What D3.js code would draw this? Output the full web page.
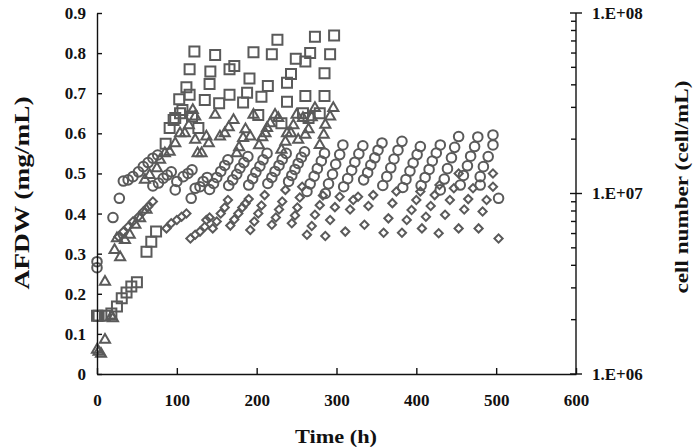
<!DOCTYPE html>
<html>
<head>
<meta charset="utf-8">
<script src="https://cdn.jsdelivr.net/npm/d3@7/dist/d3.min.js"></script>
<style>
  body { margin: 0; background: #fff; }
  text { font-family: "Liberation Serif", "Times New Roman", serif; font-weight: bold; fill: #111; }
</style>
</head>
<body>
<div id="chart"></div>
<script>
// squares
const sqT = [0, 2, 10, 18, 25, 31, 37, 43, 50, 62, 68, 74,
  86, 91, 96, 98, 103, 104, 107, 112, 116, 116, 119, 122, 127, 135, 141, 142, 148, 153,
  166, 166, 172, 183, 188, 191, 196, 202, 206, 214, 219, 226, 231, 238, 238, 243, 249,
  258, 261, 261, 265, 267, 273, 279, 285, 285, 292, 297];
const sqV = [0.145, 0.145, 0.145, 0.151, 0.168, 0.189, 0.203, 0.218, 0.229, 0.305, 0.33, 0.355,
  0.574, 0.613, 0.633, 0.638, 0.685, 0.65, 0.658, 0.715, 0.76, 0.696, 0.642, 0.804, 0.613, 0.683, 0.723, 0.754, 0.795, 0.675,
  0.76, 0.696, 0.768, 0.677, 0.701, 0.737, 0.802, 0.646, 0.691, 0.718, 0.797, 0.833, 0.625, 0.679, 0.726, 0.748, 0.786,
  0.65, 0.693, 0.779, 0.638, 0.8, 0.841, 0.65, 0.693, 0.75, 0.797, 0.844];

// triangles
const triT = [0, 2, 5, 10, 10, 18, 20,
  22, 25, 29, 35, 41, 48, 54, 62,
  60, 66, 75, 79, 85, 91, 98, 104, 110, 115, 120, 123, 123, 126, 131, 137, 140, 148, 154,
  160, 165, 171, 175, 178, 183, 186, 192, 196, 203, 207, 211, 213, 217, 223, 227, 231, 236,
  238, 243, 246, 250, 252, 258, 261, 265, 269, 273, 279, 284, 286, 292, 296];
const triV = [0.06, 0.055, 0.05, 0.085, 0.23, 0.143, 0.139,
  0.309, 0.338, 0.291, 0.334, 0.347, 0.372, 0.388, 0.409,
  0.484, 0.496, 0.513, 0.534, 0.55, 0.554, 0.575, 0.6, 0.6, 0.62, 0.658, 0.642, 0.584, 0.55, 0.55, 0.592, 0.575, 0.646, 0.592,
  0.6, 0.615, 0.633, 0.55, 0.565, 0.588, 0.61, 0.592, 0.646, 0.57, 0.59, 0.6, 0.613, 0.625, 0.646, 0.638, 0.559, 0.579,
  0.6, 0.6, 0.62, 0.646, 0.584, 0.638, 0.596, 0.61, 0.64, 0.663, 0.571, 0.596, 0.621, 0.642, 0.663];

// circles
const cirT = [0, 0, 20, 28, 33, 39, 45, 52, 58, 64, 70, 76,
  70, 77, 83, 88, 93, 98, 100, 108, 114, 119, 118, 123, 129, 133, 138,
  141, 146, 150, 155, 160, 164,
  165, 170, 175, 179, 184, 189,
  190, 195, 199, 204, 208, 213,
  214, 219, 223, 228, 232, 237,
  240, 244, 248, 252, 256, 260,
  263, 267, 272, 276, 281, 285,
  286, 290, 295, 299, 304, 308,
  309, 314, 319, 323, 328, 333,
  334, 339, 343, 348, 352, 357,
  358, 363, 368, 372, 377, 382,
  383, 387, 392, 396, 401, 405,
  406, 411, 416, 420, 425, 430,
  430, 435, 439, 444, 448, 453,
  455, 459, 464, 468, 473, 477,
  480, 480, 484, 490, 496, 496,
  503];
const cirV = [0.28, 0.265, 0.39, 0.438, 0.481, 0.484, 0.492, 0.504, 0.517, 0.527, 0.538, 0.546,
  0.469, 0.476, 0.488, 0.496, 0.504, 0.459, 0.48, 0.492, 0.5, 0.509, 0.438, 0.463, 0.467, 0.48, 0.49,
  0.46, 0.475, 0.49, 0.505, 0.52, 0.534,
  0.47, 0.484, 0.498, 0.513, 0.527, 0.542,
  0.471, 0.487, 0.503, 0.518, 0.534, 0.55,
  0.475, 0.49, 0.505, 0.52, 0.535, 0.55,
  0.48, 0.495, 0.51, 0.525, 0.54, 0.554,
  0.455, 0.474, 0.493, 0.512, 0.531, 0.55,
  0.45, 0.474, 0.498, 0.523, 0.547, 0.571,
  0.467, 0.487, 0.508, 0.528, 0.549, 0.569,
  0.484, 0.502, 0.521, 0.539, 0.558, 0.576,
  0.47, 0.492, 0.514, 0.536, 0.558, 0.58,
  0.465, 0.485, 0.506, 0.526, 0.547, 0.567,
  0.47, 0.49, 0.51, 0.531, 0.551, 0.571,
  0.459, 0.486, 0.512, 0.539, 0.565, 0.592,
  0.471, 0.495, 0.519, 0.543, 0.567, 0.591,
  0.471, 0.492, 0.517, 0.542, 0.571, 0.596,
  0.438];

// diamonds
const diaT = [27, 33, 39, 45, 52, 58, 64, 70,
  87, 93, 100, 106, 112,
  117, 123, 129, 135, 137, 141,
  145, 150, 155, 160, 164,
  167, 172, 177, 182, 186, 190,
  192, 197, 202, 206, 210,
  219, 224, 228, 232, 236,
  244, 248, 251, 254, 257,
  263, 269, 273, 279, 283,
  286, 292, 298, 304,
  311, 317, 321, 327,
  335, 340, 346,
  359, 365, 370, 375,
  382, 388, 394, 400, 405,
  407, 412, 418, 423, 429,
  428, 436, 442, 447, 453,
  453, 460, 465, 471,
  478, 483, 488, 496, 496,
  503];
const diaV = [0.342, 0.355, 0.367, 0.38, 0.392, 0.405, 0.417, 0.43,
  0.363, 0.376, 0.384, 0.392, 0.4,
  0.338, 0.347, 0.355, 0.367, 0.384, 0.39,
  0.363, 0.38, 0.4, 0.415, 0.434,
  0.37, 0.385, 0.4, 0.415, 0.425, 0.436,
  0.359, 0.38, 0.4, 0.42, 0.446,
  0.372, 0.39, 0.41, 0.43, 0.459,
  0.376, 0.395, 0.415, 0.44, 0.467,
  0.347, 0.369, 0.397, 0.421, 0.445,
  0.344, 0.384, 0.416, 0.442,
  0.355, 0.41, 0.434, 0.442,
  0.372, 0.419, 0.446,
  0.352, 0.388, 0.426, 0.455,
  0.352, 0.384, 0.409, 0.434, 0.455,
  0.363, 0.392, 0.419, 0.446, 0.471,
  0.351, 0.397, 0.434, 0.463, 0.5,
  0.363, 0.41, 0.436, 0.463,
  0.363, 0.405, 0.434, 0.467, 0.5,
  0.338];

const xTicks = [0, 100, 200, 300, 400, 500, 600];
const yTicks = [0, 0.1, 0.2, 0.3, 0.4, 0.5, 0.6, 0.7, 0.8, 0.9];
const rightTicks = [1e6, 1e7, 1e8];
const rightLabels = ["1.E+06", "1.E+07", "1.E+08"];

const svg = d3.select("#chart").append("svg")
    .attr("width", 695)
    .attr("height", 448);

const x = d3.scaleLinear().domain([0, 600]).range([97, 576]);
const y = d3.scaleLinear().domain([0, 0.9]).range([374, 13]);
const yR = d3.scaleLog().domain([1e6, 1e8]).range([374, 13]);

// markers
const markColor = "#5a5a5a";
function drawSeries(ts, vs, sym, size, rot) {
    const pts = ts.map((t, i) => ({ t: t, v: vs[i] }));
    svg.append("g").selectAll("path")
        .data(pts)
        .enter()
        .append("path")
        .attr("d", d3.symbol().type(sym).size(size))
        .attr("transform", d => `translate(${x(d.t)},${y(d.v)}) rotate(${rot})`)
        .attr("fill", "none")
        .attr("stroke", markColor)
        .attr("stroke-width", 2);
}
drawSeries(sqT, sqV, d3.symbolSquare, 100, 0);
drawSeries(triT, triV, d3.symbolTriangle, 44, 0);
drawSeries(cirT, cirV, d3.symbolCircle, 72, 0);
drawSeries(diaT, diaV, d3.symbolSquare, 34, 45);

// axes
const gx = svg.append("g")
    .attr("transform", "translate(0,374)")
    .call(d3.axisBottom(x).tickValues(xTicks).tickSize(-6).tickSizeOuter(0).tickPadding(20));
const gy = svg.append("g")
    .attr("transform", "translate(97,0)")
    .call(d3.axisLeft(y).tickValues(yTicks).tickFormat(d => d === 0 ? "0" : d3.format(".1f")(d))
        .tickSize(-5).tickSizeOuter(0).tickPadding(11));

// right log axis: minor ticks inward, major ticks crossing
const minor = [];
[1e6, 1e7].forEach(dec => { for (let k = 2; k <= 9; k++) minor.push(dec * k); });
const gr = svg.append("g");
gr.append("line").attr("x1", x(600)).attr("x2", x(600))
    .attr("y1", yR(1e8)).attr("y2", yR(1e6));
gr.selectAll(".mn").data(minor).enter().append("line")
    .attr("x1", x(600) - 5).attr("x2", x(600))
    .attr("y1", d => yR(d)).attr("y2", d => yR(d));
gr.selectAll(".mj").data(rightTicks).enter().append("line")
    .attr("x1", x(600) - 6).attr("x2", x(600) + 6)
    .attr("y1", d => yR(d)).attr("y2", d => yR(d));
gr.selectAll("line").attr("stroke", "#111").attr("stroke-width", 1.4);
gr.selectAll("text").data(rightTicks).enter().append("text")
    .attr("x", x(600) + 16)
    .attr("y", d => yR(d))
    .attr("dy", "0.35em")
    .style("font-size", "17px")
    .text((d, i) => rightLabels[i]);

[gx, gy].forEach(g => {
    g.selectAll("path, line").attr("stroke", "#111").attr("stroke-width", 1.4);
    g.selectAll("text").style("font-size", "17px").attr("fill", "#111")
        .style("font-family", "'Liberation Serif', serif").style("font-weight", "bold");
});

// titles
svg.append("text")
    .attr("x", 336).attr("y", 443)
    .attr("text-anchor", "middle")
    .attr("textLength", 82).attr("lengthAdjust", "spacingAndGlyphs")
    .style("font-size", "19px")
    .text("Time (h)");
svg.append("text")
    .attr("transform", "translate(29,193) rotate(-90)")
    .attr("text-anchor", "middle")
    .attr("textLength", 193).attr("lengthAdjust", "spacingAndGlyphs")
    .style("font-size", "20px")
    .text("AFDW (mg/mL)");
svg.append("text")
    .attr("transform", "translate(688,187) rotate(-90)")
    .attr("text-anchor", "middle")
    .attr("textLength", 213).attr("lengthAdjust", "spacingAndGlyphs")
    .style("font-size", "18px")
    .text("cell number (cell/mL)");
</script>
</body>
</html>
